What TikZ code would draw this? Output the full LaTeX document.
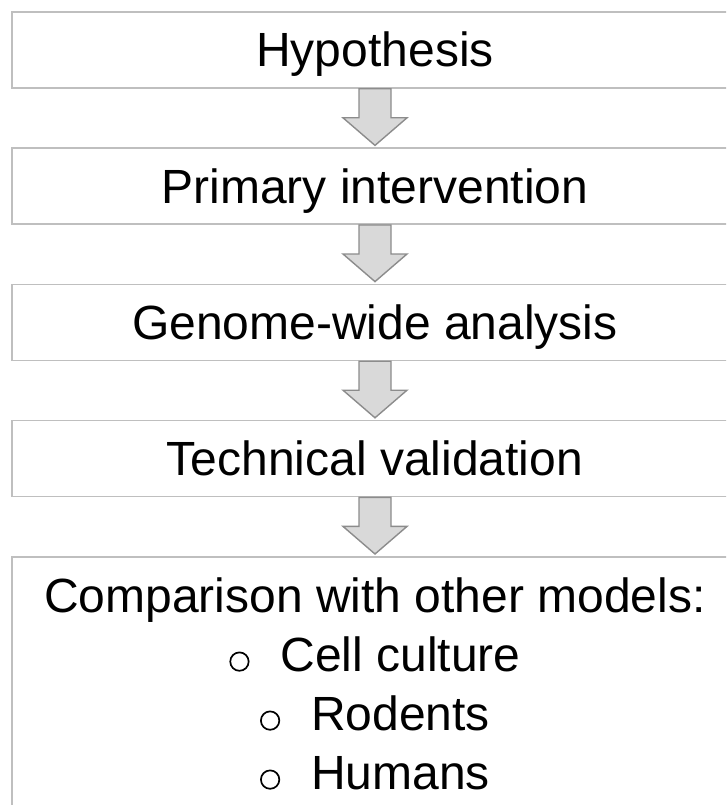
\documentclass[tikz,border=0pt]{standalone}
\usepackage{fontspec}
\setmainfont{Liberation Sans}
\usetikzlibrary{positioning,calc}
\definecolor{boxgray}{HTML}{BFBFBF}
\definecolor{arrowgray}{HTML}{8C8C8C}
\definecolor{arrowfill}{HTML}{D9D9D9}
\newcommand{\ringbullet}{\tikz[baseline=0pt]\draw[line width=1.7pt] (0,10pt) circle (9.2pt);}
\begin{document}
\begin{tikzpicture}
        [x=1pt, y=1pt,
        node distance=58.6pt,
        every node/.style={font=\fontsize{48}{59}\selectfont},
        stepbox/.style={rectangle, draw=boxgray, line width=1.6pt, fill=white,
          minimum width=726pt, minimum height=76pt, text height=34pt, text depth=0pt},
        lastbox/.style={stepbox, minimum height=0pt, text height=, text depth=,
          align=center, inner ysep=21pt},
        flowarrow/.style={draw=arrowgray, fill=arrowfill, line width=1.4pt, line join=miter},
        ]
        \useasboundingbox (0,0) rectangle (726,-805);
        \clip (0,0) rectangle (726,-805);
        \node[stepbox] (hyp) at (375,-50) {Hypothesis};
        \node[stepbox, below=of hyp] (prim) {Primary intervention};
        \node[stepbox, below=of prim] (gen) {Genome-wide analysis};
        \node[stepbox, below=of gen] (tech) {Technical validation};
        \node[lastbox, below=of tech] (comp) {Comparison with other models:\\
          \ringbullet\hspace{31pt}Cell culture\\
          \ringbullet\hspace{31pt}Rodents\\
          \ringbullet\hspace{31pt}Humans};
        % block arrows between the steps
        \foreach \a/\b in {hyp/prim, prim/gen, gen/tech, tech/comp}{
          \path (\a.south) ++(0,-29) coordinate (m);
          \draw[flowarrow] ($(\a.south)+(-16,0)$) -- ($(m)+(-16,0)$) -- ($(m)+(-32,0)$)
            -- ($(\b.north)+(0,2)$) -- ($(m)+(32,0)$) -- ($(m)+(16,0)$)
            -- ($(\a.south)+(16,0)$) -- cycle;
        }
\end{tikzpicture}
\end{document}
